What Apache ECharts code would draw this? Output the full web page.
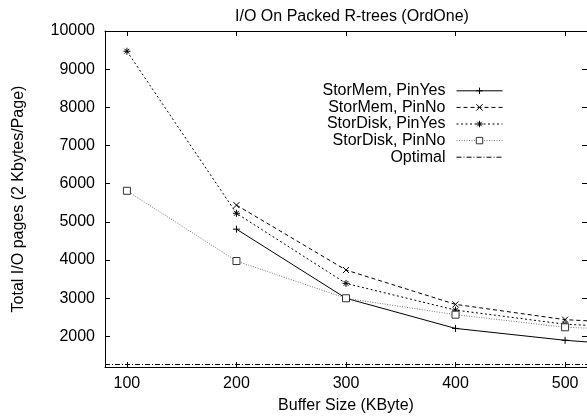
<!DOCTYPE html>
<html>
<head>
<meta charset="utf-8">
<script src="https://cdn.jsdelivr.net/npm/echarts@6/dist/echarts.min.js"></script>
<style>
html,body{margin:0;padding:0;background:#fff;}
#c{width:587px;height:419px;}
</style>
</head>
<body>
<div id="c"></div>
<script>
const bufferSizes = [100, 200, 300, 400, 500, 600];
const storMemPinYes = [null, 4810, 3000, 2210, 1900, 1680];
const storMemPinNo = [null, 5440, 3740, 2840, 2440, 2290];
const storDiskPinYes = [9470, 5225, 3390, 2690, 2320, 2180];
const storDiskPinNo = [5815, 3975, 3000, 2570, 2240, 2130];
const optimal = 1280;
const xTicks = [100, 200, 300, 400, 500];
const yTicks = [2000, 3000, 4000, 5000, 6000, 7000, 8000, 9000, 10000];

const FONT = 'Liberation Sans, Arial, Helvetica, sans-serif';
const pairs = ys => bufferSizes.map((x, i) => [x, ys[i]]);

const plusPath = 'path://M0,5L10,5M5,0L5,10';
const crossPath = 'path://M0,0L10,10M10,0L0,10';
const starPath = 'path://M0,5L10,5M5,0L5,10M1.5,1.5L8.5,8.5M8.5,1.5L1.5,8.5';

function lineSeries(name, ys, symbol, size, lineType, lineColor, markColor, fill) {
  return {
    name, type: 'line', data: pairs(ys), symbol, symbolSize: size,
    showAllSymbol: true, connectNulls: false,
    lineStyle: { color: lineColor, width: 1, type: lineType },
    itemStyle: { color: fill || markColor, borderColor: markColor, borderWidth: 1 },
    emphasis: { disabled: true }, animation: false, z: 3
  };
}

const chart = echarts.init(document.getElementById('c'), null, { renderer: 'canvas' });
const axisLabelStyle = { fontFamily: FONT, fontSize: 16, color: '#000' };
const plain = v => String(v);
chart.setOption({
  animation: false,
  backgroundColor: '#fff',
  title: {
    text: 'I/O On Packed R-trees (OrdOne)',
    left: 347, top: 4, textAlign: 'center',
    textStyle: { fontFamily: FONT, fontSize: 16, fontWeight: 'normal', color: '#000' }
  },
  grid: { left: 105, top: 31, width: 484, height: 339, show: false },
  legend: {
    orient: 'vertical', align: 'right', right: 79, top: 77.5,
    itemWidth: 46, itemHeight: 8, itemGap: 0,
    selectedMode: false,
    lineStyle: { width: 1 },
    itemStyle: { borderWidth: 1 },
    textStyle: { fontFamily: FONT, fontSize: 16, color: '#000', lineHeight: 16.6, padding: [0, 6, 0, 0] },
    data: ['StorMem, PinYes', 'StorMem, PinNo', 'StorDisk, PinYes', 'StorDisk, PinNo', 'Optimal']
  },
  xAxis: [{
    type: 'value', min: 80, max: 520, position: 'bottom',
    name: 'Buffer Size (KByte)', nameLocation: 'middle', nameGap: 31,
    nameTextStyle: axisLabelStyle,
    axisLine: { show: true, onZero: false, lineStyle: { color: '#000', width: 1 } },
    axisTick: { show: true, inside: true, length: 5, customValues: xTicks, lineStyle: { color: '#000' } },
    axisLabel: { show: true, margin: 9, customValues: xTicks, formatter: plain, ...axisLabelStyle },
    splitLine: { show: false }
  }, {
    type: 'value', min: 80, max: 520, position: 'top',
    axisLine: { show: true, onZero: false, lineStyle: { color: '#000', width: 1 } },
    axisTick: { show: true, inside: true, length: 5, customValues: xTicks, lineStyle: { color: '#000' } },
    axisLabel: { show: false },
    splitLine: { show: false }
  }],
  yAxis: [{
    type: 'value', min: 1200, max: 10000, position: 'left',
    name: 'Total I/O pages (2 Kbytes/Page)', nameLocation: 'middle', nameGap: 78,
    nameTextStyle: axisLabelStyle,
    axisLine: { show: true, onZero: false, lineStyle: { color: '#000', width: 1 } },
    axisTick: { show: true, inside: true, length: 5, customValues: yTicks, lineStyle: { color: '#000' } },
    axisLabel: { show: true, margin: 10, customValues: yTicks, formatter: plain, ...axisLabelStyle },
    splitLine: { show: false }
  }, {
    type: 'value', min: 1200, max: 10000, position: 'right',
    axisLine: { show: true, onZero: false, lineStyle: { color: '#000', width: 1 } },
    axisTick: { show: true, inside: true, length: 5, customValues: yTicks, lineStyle: { color: '#000' } },
    axisLabel: { show: false },
    splitLine: { show: false }
  }],
  series: [
    lineSeries('StorMem, PinYes', storMemPinYes, plusPath, 7, 'solid', '#000', '#000'),
    lineSeries('StorMem, PinNo', storMemPinNo, crossPath, 6, [4, 3], '#000', '#000'),
    lineSeries('StorDisk, PinYes', storDiskPinYes, starPath, 7, [2, 2.5], '#000', '#000'),
    lineSeries('StorDisk, PinNo', storDiskPinNo, 'rect', 7, [1, 1.5], '#777', '#333', '#fff'),
    {
      name: 'Optimal', type: 'line', data: [], symbol: 'none',
      lineStyle: { color: '#000', width: 1, type: [5, 2, 1, 2] },
      itemStyle: { color: '#000', opacity: 0 },
      markLine: {
        silent: true, symbol: 'none', animation: false,
        label: { show: false },
        lineStyle: { color: '#000', width: 1, type: [5, 2, 1, 2], opacity: 1 },
        data: [{ yAxis: optimal }]
      }
    }
  ]
});
</script>
</body>
</html>
